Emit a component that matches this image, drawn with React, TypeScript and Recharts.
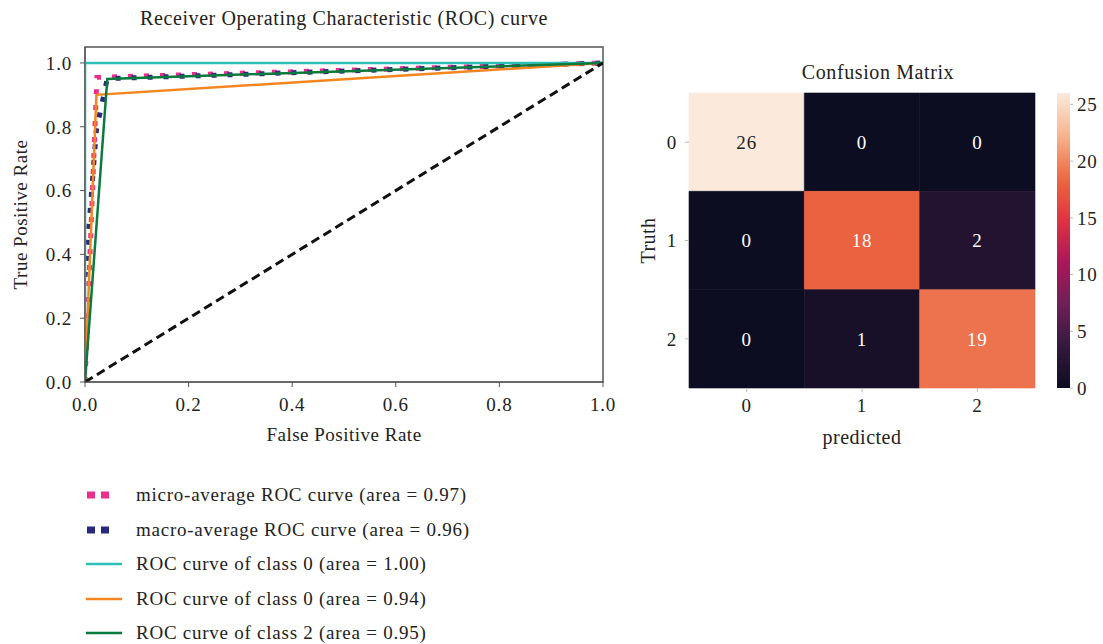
import React from "react";
import {
  LineChart, Line, XAxis, YAxis, ReferenceArea, Legend,
  ComposedChart, Bar,
} from "recharts";

const FONT = '"Liberation Serif", "Times New Roman", serif';

// ROC curves: false positive rate / true positive rate
const microFpr = [0, 0.023, 1];
const microTpr = [0, 0.955, 1];
const macroFpr = [0, 0.022, 0.043, 1];
const macroTpr = [0.33, 0.79, 0.951, 1];
const class0Fpr = [0, 0, 1];
const class0Tpr = [0, 1, 1];
const class1Fpr = [0, 0.022, 1];
const class1Tpr = [0, 0.9, 1];
const class2Fpr = [0, 0.043, 1];
const class2Tpr = [0, 0.95, 1];
const chanceFpr = [0, 1];
const chanceTpr = [0, 1];

const rocTicks = [0, 0.2, 0.4, 0.6, 0.8, 1.0];

const legendLabels = [
  "micro-average ROC curve (area = 0.97)",
  "macro-average ROC curve (area = 0.96)",
  "ROC curve of class 0 (area = 1.00)",
  "ROC curve of class 0 (area = 0.94)",
  "ROC curve of class 2 (area = 0.95)",
];

// confusion matrix (rows = truth, cols = predicted)
const classLabels = ["0", "1", "2"];
const confusion = [
  [26, 0, 0],
  [0, 18, 2],
  [0, 1, 19],
];
const colorbarTicks = [0, 5, 10, 15, 20, 25];
const cmMin = 0;
const cmMax = 26;

// rocket-like colormap as seen in the picture
const rocketStops: [number, string][] = [
  [0, "#0d0d21"],
  [0.143, "#35193e"],
  [0.286, "#701f57"],
  [0.429, "#ad1759"],
  [0.571, "#e13342"],
  [0.69, "#ea613f"],
  [0.74, "#ee7751"],
  [0.857, "#f6b48f"],
  [1, "#fbeadc"],
];

const hex = (c: string) => [1, 3, 5].map((i) => parseInt(c.slice(i, i + 2), 16));
function colorFor(v: number) {
  const t = (v - cmMin) / (cmMax - cmMin);
  for (let i = 1; i < rocketStops.length; i++) {
    const [p1, c1] = rocketStops[i];
    const [p0, c0] = rocketStops[i - 1];
    if (t <= p1) {
      const f = (t - p0) / (p1 - p0);
      const a = hex(c0), b = hex(c1);
      return "rgb(" + a.map((x, k) => Math.round(x + (b[k] - x) * f)).join(",") + ")";
    }
  }
  return rocketStops[rocketStops.length - 1][1];
}

const toPoints = (xs: number[], ys: number[]) => xs.map((x, i) => ({ x, y: ys[i] }));

const series = [
  { key: "micro", name: legendLabels[0], pts: toPoints(microFpr, microTpr), color: "#ec2f8c", dotted: true },
  { key: "macro", name: legendLabels[1], pts: toPoints(macroFpr, macroTpr), color: "#2a2a7c", dotted: true },
  { key: "c0", name: legendLabels[2], pts: toPoints(class0Fpr, class0Tpr), color: "#30bfb8", dotted: false },
  { key: "c1", name: legendLabels[3], pts: toPoints(class1Fpr, class1Tpr), color: "#f5861f", dotted: false },
  { key: "c2", name: legendLabels[4], pts: toPoints(class2Fpr, class2Tpr), color: "#0b7a3e", dotted: false },
];

const tickStyle = { fill: "#222", fontSize: 19, fontFamily: FONT, letterSpacing: 0.8 };
const labelStyle = { fill: "#222", fontSize: 19, fontFamily: FONT, letterSpacing: 0.5 };

function RocLegend() {
  return (
    <div style={{ fontFamily: FONT, fontSize: 19, letterSpacing: 0.75, color: "#222", whiteSpace: "nowrap" }}>
      {series.map((s) => (
        <div key={s.key} style={{ display: "flex", alignItems: "center", height: 34.5 }}>
          <svg width={36} height={10} style={{ marginRight: 14 }}>
            {s.dotted ? (
              <>
                <rect x={1} y={1.5} width={8} height={7} fill={s.color} />
                <rect x={15} y={1.5} width={8} height={7} fill={s.color} />
              </>
            ) : (
              <line x1={0} y1={5} x2={36} y2={5} stroke={s.color} strokeWidth={2.5} />
            )}
          </svg>
          <span>{s.name}</span>
        </div>
      ))}
    </div>
  );
}

function RocChart() {
  return (
    <LineChart width={620} height={644} margin={{ top: 47, right: 17, left: 0, bottom: 200 }}>
      <XAxis
        type="number"
        dataKey="x"
        domain={[0, 1]}
        ticks={rocTicks}
        tickFormatter={(v) => v.toFixed(1)}
        allowDataOverflow
        height={62}
        tick={tickStyle}
        tickSize={5}
        tickMargin={11}
        tickLine={{ stroke: "#555" }}
        axisLine={{ stroke: "#555" }}
        label={{ value: "False Positive Rate", position: "insideBottom", offset: 3, ...labelStyle }}
      />
      <YAxis
        type="number"
        domain={[0, 1.05]}
        ticks={rocTicks}
        tickFormatter={(v) => v.toFixed(1)}
        allowDataOverflow
        width={85}
        tick={tickStyle}
        tickSize={5}
        tickMargin={8}
        tickLine={{ stroke: "#555" }}
        axisLine={{ stroke: "#555" }}
        label={{ value: "True Positive Rate", angle: -90, position: "insideLeft", offset: 20, ...labelStyle, style: { textAnchor: "middle" } }}
      />
      <ReferenceArea x1={0} x2={1} y1={0} y2={1.05} fill="none" stroke="#555" strokeWidth={1.5} ifOverflow="visible" />
      {series.map((s) => (
        <Line
          key={s.key}
          data={s.pts}
          dataKey="y"
          name={s.name}
          type="linear"
          stroke={s.color}
          strokeWidth={s.dotted ? 5 : 2.5}
          strokeDasharray={s.dotted ? "5 11" : undefined}
          dot={false}
          activeDot={false}
          isAnimationActive={false}
        />
      ))}
      <Line
        data={toPoints(chanceFpr, chanceTpr)}
        dataKey="y"
        type="linear"
        stroke="#111"
        strokeWidth={3}
        strokeDasharray="9 5"
        dot={false}
        activeDot={false}
        legendType="none"
        isAnimationActive={false}
      />
      <Legend
        layout="horizontal"
        verticalAlign="middle"
        align="center"
        wrapperStyle={{ left: 86, top: 478, width: 450 }}
        content={() => <RocLegend />}
      />
    </LineChart>
  );
}

const cells = confusion.flatMap((row, r) => row.map((v, c) => ({ r, c, v })));

function ConfusionChart() {
  return (
    <ComposedChart width={473} height={460} data={cells} margin={{ top: 93, right: 68, left: 0, bottom: 12 }}>
      <XAxis
        type="number"
        dataKey="c"
        domain={[0, 3]}
        ticks={[0.5, 1.5, 2.5]}
        tickFormatter={(v) => classLabels[Math.floor(v)]}
        height={60}
        tick={tickStyle}
        tickSize={4}
        tickMargin={7}
        tickLine={{ stroke: "#bbb" }}
        axisLine={false}
        label={{ value: "predicted", position: "insideBottom", offset: 4, ...labelStyle, fontSize: 20 }}
      />
      <YAxis
        type="number"
        dataKey="r"
        domain={[0, 3]}
        reversed
        ticks={[0.5, 1.5, 2.5]}
        tickFormatter={(v) => classLabels[Math.floor(v)]}
        width={59}
        tick={tickStyle}
        tickSize={4}
        tickMargin={8}
        tickLine={{ stroke: "#bbb" }}
        axisLine={false}
        label={{ value: "Truth", angle: -90, position: "insideLeft", offset: 18, ...labelStyle, fontSize: 20, style: { textAnchor: "middle" } }}
      />
      {cells.map((cell) => (
        <ReferenceArea
          key={cell.r + "-" + cell.c}
          x1={cell.c}
          x2={cell.c + 1}
          y1={cell.r}
          y2={cell.r + 1}
          fill={colorFor(cell.v)}
          fillOpacity={1}
          stroke={colorFor(cell.v)}
          strokeWidth={0.6}
          label={{
            value: String(cell.v),
            position: "center",
            fill: cell.v > cmMax * 0.8 ? "#222" : "#fff",
            fontSize: 19,
            fontFamily: FONT,
            letterSpacing: 0.8,
          }}
        />
      ))}
    </ComposedChart>
  );
}

const colorbarData = [{ name: "scale", v: cmMax }];

function Colorbar() {
  return (
    <ComposedChart width={63} height={460} data={colorbarData} margin={{ top: 93, right: 0, left: 17, bottom: 72 }} barCategoryGap={0}>
      <defs>
        <linearGradient id="rocketGrad" x1="0" y1="1" x2="0" y2="0">
          {rocketStops.map(([p, c]) => (
            <stop key={p} offset={p} stopColor={c} />
          ))}
        </linearGradient>
      </defs>
      <XAxis dataKey="name" hide />
      <YAxis
        orientation="right"
        type="number"
        domain={[0, cmMax]}
        ticks={colorbarTicks}
        width={33}
        tick={tickStyle}
        tickSize={3}
        tickMargin={4}
        tickLine={{ stroke: "#bbb" }}
        axisLine={false}
      />
      <Bar dataKey="v" fill="url(#rocketGrad)" isAnimationActive={false} />
    </ComposedChart>
  );
}

export default function App() {
  const titleStyle: React.CSSProperties = {
    position: "absolute",
    fontFamily: FONT,
    color: "#222",
    textAlign: "center",
    whiteSpace: "nowrap",
  };
  return (
    <div style={{ position: "fixed", left: 0, top: 0, width: 1103, height: 644, background: "#fff", overflow: "hidden" }}>
      <div style={{ position: "absolute", left: 0, top: 0 }}>
        <RocChart />
      </div>
      <div style={{ ...titleStyle, fontSize: 20, letterSpacing: 0.6, left: 85, width: 518, top: 7 }}>
        Receiver Operating Characteristic (ROC) curve
      </div>
      <div style={{ position: "absolute", left: 630, top: 0 }}>
        <ConfusionChart />
      </div>
      <div style={{ ...titleStyle, fontSize: 20, letterSpacing: 0.6, left: 689, width: 378, top: 61 }}>Confusion Matrix</div>
      <div style={{ position: "absolute", left: 1040, top: 0 }}>
        <Colorbar />
      </div>
    </div>
  );
}
